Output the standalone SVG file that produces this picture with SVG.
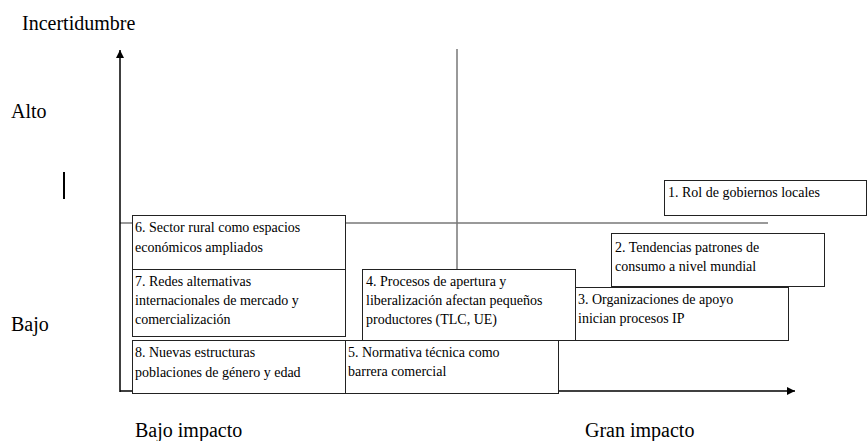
<svg xmlns="http://www.w3.org/2000/svg" width="867" height="441" viewBox="0 0 867 441">
<defs>
<marker id="arr" viewBox="0 0 10 10" refX="10" refY="5" markerWidth="8" markerHeight="8" markerUnits="userSpaceOnUse" orient="auto">
<path d="M0,0 L10,5 L0,10 z" fill="#000"/>
</marker>
<style>
.lbl{font-family:"Times New Roman","Liberation Serif",serif;font-size:20px;fill:#000}
.bt{font-family:"Times New Roman","Liberation Serif",serif;font-size:14px;fill:#000}
.box{fill:#fff;stroke:#222;stroke-width:1}
.axis{stroke:#000;stroke-width:1.5;fill:none}
.guide{stroke:#777;stroke-width:1.5;fill:none}
</style>
</defs>
<rect width="867" height="441" fill="#fff"/>
<g id="labels">
<text class="lbl" font-family="Times New Roman, serif" x="22" y="30">Incertidumbre</text>
<text class="lbl" font-family="Times New Roman, serif" x="11" y="118">Alto</text>
<text class="lbl" font-family="Times New Roman, serif" x="11" y="331">Bajo</text>
<text class="lbl" font-family="Times New Roman, serif" x="135" y="437">Bajo impacto</text>
<text class="lbl" font-family="Times New Roman, serif" x="585" y="437">Gran impacto</text>
<line x1="64" y1="172" x2="64" y2="199" stroke="#000" stroke-width="2"/>
</g>
<g id="connectors">
<line class="guide" x1="457" y1="49" x2="457" y2="270"/>
<line class="guide" x1="120" y1="223" x2="768" y2="223"/>
<line class="axis" x1="120" y1="392" x2="120" y2="50" marker-end="url(#arr)"/>
<line class="axis" x1="120" y1="391" x2="795" y2="391" marker-end="url(#arr)"/>
</g>
<g id="n1"><rect class="box" x="664.5" y="180.5" width="202" height="35"/><text class="bt" x="668" y="197">1. Rol de gobiernos locales</text></g>
<g id="n2"><rect class="box" x="611.5" y="233.5" width="213" height="53"/><text class="bt" x="615" y="252">2. Tendencias patrones de</text><text class="bt" x="615" y="271">consumo a nivel mundial</text></g>
<g id="n3"><rect class="box" x="575.5" y="287.5" width="213" height="53"/><text class="bt" x="578" y="304">3. Organizaciones de apoyo</text><text class="bt" x="578" y="323">inician procesos IP</text></g>
<g id="n4"><rect class="box" x="362.5" y="269.5" width="213" height="71"/><text class="bt" x="366" y="286">4. Procesos de apertura y</text><text class="bt" x="366" y="305">liberalización afectan pequeños</text><text class="bt" x="366" y="324">productores (TLC, UE)</text></g>
<g id="n5"><rect class="box" x="345.5" y="340.5" width="213" height="53"/><text class="bt" x="348" y="357">5. Normativa técnica como</text><text class="bt" x="348" y="376">barrera comercial</text></g>
<g id="n6"><rect class="box" x="132.5" y="215.5" width="213" height="54"/><text class="bt" x="135" y="232">6. Sector rural como espacios</text><text class="bt" x="135" y="252">económicos ampliados</text></g>
<g id="n7"><rect class="box" x="132.5" y="269.5" width="213" height="67"/><text class="bt" x="135" y="286">7. Redes alternativas</text><text class="bt" x="135" y="305">internacionales de mercado y</text><text class="bt" x="135" y="324">comercialización</text></g>
<g id="n8"><rect class="box" x="132.5" y="340.5" width="213" height="53"/><text class="bt" x="135" y="357">8. Nuevas estructuras</text><text class="bt" x="135" y="377">poblaciones de género y edad</text></g>
</svg>
